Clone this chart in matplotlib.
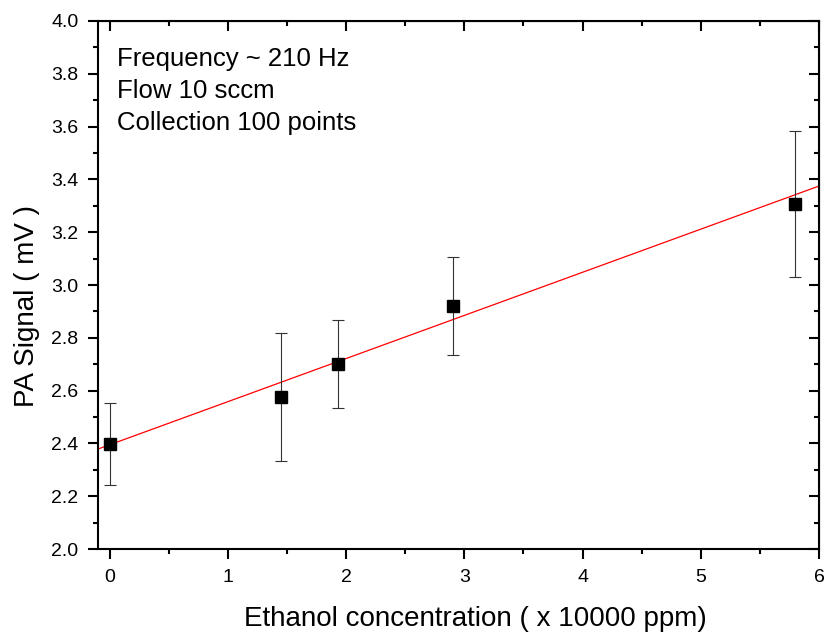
import numpy as np
import matplotlib
matplotlib.use('Agg')
import matplotlib.pyplot as plt
from matplotlib.ticker import MultipleLocator

plt.rcParams['font.family'] = ['Liberation Sans', 'DejaVu Sans']

# Datos
concentracion = [0.0, 1.45, 1.93, 2.90, 5.80]
senal = [2.398, 2.576, 2.700, 2.920, 3.307]
error = [0.155, 0.243, 0.167, 0.186, 0.277]

# Ajuste lineal (ordenada, pendiente)
ajuste = [2.395, 0.1633]
x_ajuste = [-0.1, 6.0]

notas = ['Frequency ~ 210 Hz', 'Flow 10 sccm', 'Collection 100 points']

fig = plt.figure(figsize=(8.24, 6.32), dpi=100)
ax = fig.add_axes([0.1189, 0.1313, 0.875, 0.8355])

# Recta de ajuste
xa = np.array(x_ajuste)
ax.plot(xa, ajuste[0] + ajuste[1] * xa, color='red', lw=0.9, zorder=2)

# Puntos con barras de error
ax.errorbar(concentracion, senal, yerr=error, fmt='s', color='black',
            ecolor='#333333', elinewidth=0.8, capsize=4.5, capthick=0.8,
            markersize=8, zorder=3)

ax.set_xlim(-0.1, 6)
ax.set_ylim(2.0, 4.0)
ax.xaxis.set_major_locator(MultipleLocator(1))
ax.xaxis.set_minor_locator(MultipleLocator(0.5))
ax.yaxis.set_major_locator(MultipleLocator(0.2))
ax.yaxis.set_minor_locator(MultipleLocator(0.1))
ax.yaxis.set_major_formatter(plt.FormatStrFormatter('%.1f'))

for s in ax.spines.values():
    s.set_linewidth(1.5)

ax.tick_params(which='both', direction='out', width=1.5, labelsize=14)
ax.tick_params(which='major', length=7.5)
ax.tick_params(which='minor', length=3.6)
ax.tick_params(axis='x', which='major', pad=7)
ax.tick_params(axis='y', which='major', pad=6.5)

# Marcas hacia dentro arriba y a la derecha
ax2 = ax.secondary_xaxis('top')
ax2.xaxis.set_major_locator(MultipleLocator(1))
ax2.xaxis.set_minor_locator(MultipleLocator(0.5))
ax2.tick_params(which='both', direction='in', width=1.5, labeltop=False)
ax2.tick_params(which='major', length=7.5)
ax2.tick_params(which='minor', length=3.6)
ax3 = ax.secondary_yaxis('right')
ax3.yaxis.set_major_locator(MultipleLocator(0.2))
ax3.yaxis.set_minor_locator(MultipleLocator(0.1))
ax3.tick_params(which='both', direction='in', width=1.5, labelright=False)
ax3.tick_params(which='major', length=7.5)
ax3.tick_params(which='minor', length=3.6)

ax.set_xlabel('Ethanol concentration ( x 10000 ppm)', fontsize=20, labelpad=14)
ax.set_ylabel('PA Signal ( mV )', fontsize=20, labelpad=8)
ax.xaxis.label.set_x(0.523)
ax.yaxis.label.set_y(0.46)

ax.text(0.026, 0.951, '\n'.join(notas), transform=ax.transAxes, fontsize=18.5,
        va='top', ha='left', linespacing=1.42)

fig.savefig('out.png', dpi=100)
